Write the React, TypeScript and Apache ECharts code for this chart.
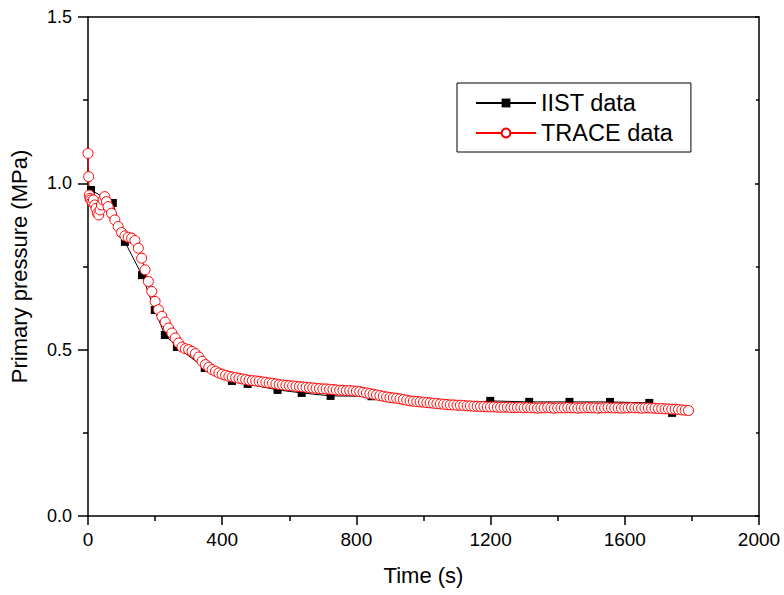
import React, { useEffect, useRef } from "react";
import * as echarts from "echarts";

const xTicks = [0, 400, 800, 1200, 1600, 2000];
const yTicks = [0.0, 0.5, 1.0, 1.5];

const iistTime = [9, 74, 110, 161, 199, 229, 265, 348, 429, 476, 565, 637, 723, 845, 965, 1080, 1199, 1315, 1435, 1556, 1673, 1741];
const iistPressure = [0.98, 0.941, 0.824, 0.724, 0.619, 0.544, 0.508, 0.445, 0.406, 0.397, 0.379, 0.37, 0.361, 0.36, 0.345, 0.335, 0.346, 0.343, 0.343, 0.343, 0.34, 0.31];

const traceEarlyTime = [0, 2, 4, 6, 8, 12, 16, 20, 24, 28, 32, 36, 40, 45, 50, 55, 60];
const traceEarlyPressure = [1.09, 1.02, 0.965, 0.955, 0.95, 0.945, 0.95, 0.935, 0.925, 0.91, 0.905, 0.92, 0.935, 0.95, 0.96, 0.945, 0.93];

// TRACE samples every 10 s from 70 s to 1790 s
const traceStart = 70;
const traceStep = 10;
const tracePressure = [
  0.91, 0.89, 0.87, 0.852, 0.842, 0.838, 0.835, 0.828, 0.805, 0.775,
  0.74, 0.705, 0.675, 0.645, 0.62, 0.6, 0.583, 0.565, 0.55, 0.535,
  0.52, 0.508, 0.503, 0.5, 0.495, 0.488, 0.478, 0.465, 0.455, 0.447,
  0.44, 0.435, 0.43, 0.426, 0.423, 0.42, 0.418, 0.416, 0.414, 0.412,
  0.41, 0.408, 0.407, 0.406, 0.405, 0.403, 0.402, 0.4, 0.399, 0.397,
  0.395, 0.394, 0.393, 0.392, 0.391, 0.39, 0.389, 0.388, 0.387, 0.386,
  0.385, 0.384, 0.383, 0.382, 0.382, 0.381, 0.38, 0.379, 0.378, 0.378,
  0.377, 0.377, 0.376, 0.375, 0.374, 0.372, 0.37, 0.368, 0.366, 0.364,
  0.362, 0.36, 0.358, 0.356, 0.355, 0.354, 0.352, 0.35, 0.348, 0.346,
  0.345, 0.344, 0.343, 0.342, 0.341, 0.34, 0.339, 0.338, 0.337, 0.336,
  0.335, 0.334, 0.334, 0.333, 0.333, 0.332, 0.331, 0.331, 0.33, 0.33,
  0.329, 0.329, 0.328, 0.328, 0.328, 0.327, 0.327, 0.327, 0.327, 0.326,
  0.326, 0.326, 0.326, 0.325, 0.326, 0.325, 0.325, 0.324, 0.325, 0.325,
  0.326, 0.325, 0.324, 0.325, 0.325, 0.325, 0.326, 0.325, 0.325, 0.324,
  0.325, 0.325, 0.326, 0.325, 0.325, 0.324, 0.325, 0.325, 0.326, 0.325,
  0.325, 0.325, 0.324, 0.325, 0.325, 0.326, 0.325, 0.325, 0.324, 0.325,
  0.325, 0.324, 0.324, 0.323, 0.323, 0.322, 0.322, 0.321, 0.321, 0.32,
  0.319, 0.318, 0.317,
];

const FONT = "'Liberation Sans', Arial, Helvetica, sans-serif";

export default function App() {
  const ref = useRef<HTMLDivElement>(null);
  useEffect(() => {
    if (!ref.current) return;
    const chart = echarts.init(ref.current, undefined, { renderer: "svg" });
    const iist = iistTime.map((t, i) => [t, iistPressure[i]]);
    const trace = [
      ...traceEarlyTime.map((t, i) => [t, traceEarlyPressure[i]]),
      ...tracePressure.map((p, i) => [traceStart + i * traceStep, p]),
    ];
    const grid = { left: 88, right: 25, top: 17, bottom: 79 };
    chart.setOption({
      animation: false,
      backgroundColor: "#fff",
      grid,
      legend: {
        orient: "vertical",
        left: 457,
        top: 83,
        padding: [8, 18, 7, 18],
        borderColor: "#000",
        borderWidth: 1,
        borderRadius: 0,
        itemWidth: 60,
        itemHeight: 11,
        itemGap: 6,
        textStyle: { fontSize: 23.5, fontFamily: FONT, color: "#000" },
        data: ["IIST data", "TRACE data"],
      },
      xAxis: [
        {
          type: "value",
          min: xTicks[0],
          max: xTicks[xTicks.length - 1],
          interval: 400,
          name: "Time (s)",
          nameLocation: "middle",
          nameGap: 48,
          nameTextStyle: { fontSize: 22, fontFamily: FONT, color: "#000" },
          axisLine: { show: true, onZero: false, lineStyle: { color: "#000", width: 1.5 } },
          axisTick: { show: true, inside: false, length: 9, lineStyle: { color: "#000", width: 1.5 } },
          minorTick: { show: true, splitNumber: 2, length: 5, lineStyle: { color: "#000", width: 1.5 } },
          axisLabel: {
            fontSize: 19,
            fontFamily: FONT,
            color: "#000",
            margin: 14,
            formatter: (v: number) => String(v),
          },
          splitLine: { show: false },
        },
        {
          type: "value",
          position: "top",
          min: 0,
          max: 2000,
          interval: 400,
          axisLine: { show: true, onZero: false, lineStyle: { color: "#000", width: 1.5 } },
          axisTick: { show: false },
          axisLabel: { show: false },
          splitLine: { show: false },
        },
      ],
      yAxis: [
        {
          type: "value",
          min: yTicks[0],
          max: yTicks[yTicks.length - 1],
          interval: 0.5,
          name: "Primary pressure (MPa)",
          nameLocation: "middle",
          nameGap: 58,
          nameTextStyle: { fontSize: 22, fontFamily: FONT, color: "#000" },
          axisLine: { show: true, onZero: false, lineStyle: { color: "#000", width: 1.5 } },
          axisTick: { show: true, inside: false, length: 10, lineStyle: { color: "#000", width: 1.5 } },
          minorTick: { show: true, splitNumber: 2, length: 5, lineStyle: { color: "#000", width: 1.5 } },
          axisLabel: {
            fontSize: 18,
            fontFamily: FONT,
            color: "#000",
            margin: 16,
            formatter: (v: number) => v.toFixed(1),
          },
          splitLine: { show: false },
        },
        {
          type: "value",
          position: "right",
          min: 0,
          max: 1.5,
          interval: 0.5,
          axisLine: { show: true, onZero: false, lineStyle: { color: "#000", width: 1.5 } },
          axisTick: { show: true, inside: true, length: 4, lineStyle: { color: "#000", width: 1.5 } },
          minorTick: { show: true, splitNumber: 2, length: 3, lineStyle: { color: "#000", width: 1.5 } },
          axisLabel: { show: false },
          splitLine: { show: false },
        },
      ],
      series: [
        {
          name: "IIST data",
          type: "line",
          xAxisIndex: 0,
          yAxisIndex: 0,
          data: iist,
          symbol: "rect",
          symbolSize: 8,
          showAllSymbol: true,
          lineStyle: { color: "#000", width: 1 },
          itemStyle: { color: "#000", borderWidth: 0 },
        },
        {
          name: "TRACE data",
          type: "line",
          xAxisIndex: 0,
          yAxisIndex: 0,
          data: trace,
          symbol: "circle",
          symbolSize: 10,
          showAllSymbol: true,
          lineStyle: { color: "#ff0000", width: 1 },
          itemStyle: { color: "#ffffff", borderColor: "#ff0000", borderWidth: 1 },
        },
      ],
    });
    return () => chart.dispose();
  }, []);
  return (
    <div
      ref={ref}
      style={{ position: "fixed", left: 0, top: 0, width: 784, height: 595 }}
    />
  );
}
